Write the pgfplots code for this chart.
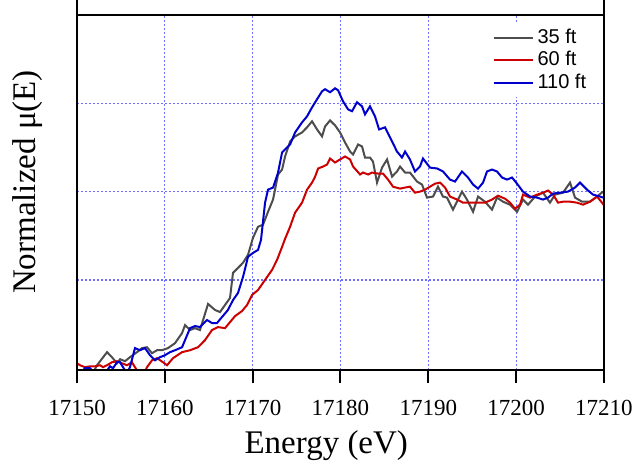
\documentclass[border=0pt]{standalone}
\usepackage{fontspec}
\setmainfont{Liberation Serif}
\newfontfamily\arial{Liberation Sans}
\usepackage{pgfplots}
\pgfplotsset{compat=1.18}
\definecolor{cgray}{HTML}{4D4D4D}
\definecolor{cred}{HTML}{CC0000}
\definecolor{cblue}{HTML}{0000CC}
\definecolor{cgrid}{HTML}{6F6FFF}
\begin{document}
\begin{tikzpicture}
\begin{axis}[
  at={(0,0)}, anchor=south west,
  scale only axis, width=263.5pt, height=177.5pt,
  xmin=17150, xmax=17210, ymin=-0.01, ymax=2.0,
  xtick={17160,17170,...,17200},
  ytick={0.5,1.0,1.5},
  xticklabels={}, yticklabels={},
  scaled ticks=false,
  major tick length=0pt,
  axis line style={line width=1pt},
  grid=major,
  major grid style={color=cgrid, line width=0.6pt, dash pattern=on 1pt off 1pt},
  clip=true,
  legend style={at={(axis description cs:0.784,0.979)}, anchor=north west,
    draw=none, fill=white, font=\arial\fontsize{10}{12}\selectfont,
    row sep=-1.5pt, inner sep=1pt},
  legend cell align=left,
  legend image code/.code={\draw[#1] (0pt,0pt) -- (19.5pt,0pt);},
  every axis plot/.append style={line width=1pt},
]
\addplot[cgray] table {
17151.8 -0.03
17152.28 0.017
17153.42 0.091
17153.98 0.0625
17154.55 0.028
17154.90 0.051
17155.47 0.040
17156.03 0.0625
17156.83 0.091
17157.40 0.114
17157.97 0.119
17158.54 0.085
17159.11 0.102
17159.68 0.102
17160.36 0.114
17161.16 0.142
17161.96 0.199
17162.30 0.244
17162.87 0.216
17163.44 0.227
17164.00 0.216
17164.92 0.364
17165.71 0.330
17166.28 0.318
17166.85 0.358
17167.42 0.398
17167.76 0.540
17168.33 0.568
17168.90 0.597
17169.47 0.642
17170.04 0.739
17170.61 0.801
17171.18 0.8125
17171.75 0.886
17172.32 0.955
17172.89 1.097
17173.35 1.125
17173.69 1.199
17174.26 1.284
17174.83 1.3125
17175.62 1.335
17176.19 1.364
17176.76 1.398
17177.33 1.352
17177.90 1.3125
17178.24 1.369
17178.81 1.403
17179.38 1.375
17179.95 1.335
17180.52 1.278
17181.09 1.227
17181.43 1.210
17182.00 1.267
17182.45 1.256
17182.79 1.193
17183.36 1.193
17183.70 1.170
17184.16 1.051
17184.73 1.136
17185.30 1.182
17185.87 1.085
17186.43 1.114
17186.78 1.142
17187.35 1.108
17187.91 1.108
17188.71 1.057
17189.28 1.040
17189.85 0.966
17190.53 0.972
17191.10 1.028
17191.67 0.972
17192.13 0.966
17192.81 0.898
17193.83 1.000
17194.40 0.955
17195.09 0.886
17195.66 0.972
17196.45 0.943
17197.25 0.898
17197.82 0.966
17198.50 0.943
17199.30 0.926
17200.10 0.886
17200.78 0.955
17201.35 0.926
17202.15 0.972
17203.06 0.994
17203.85 0.9375
17204.42 0.983
17205.33 0.994
17206.13 1.051
17206.70 0.966
17207.50 0.943
17208.41 0.943
17209.21 0.972
17209.89 1.000
};
\addlegendentry{35 ft}
\addplot[cred] table {
17150.00 0.028
17150.34 0.017
17150.91 0.006
17151.48 0.011
17152.05 0.011
17152.62 0.017
17152.96 0.006
17153.42 0.017
17153.98 0.034
17154.55 0.040
17155.12 0.028
17155.69 0.017
17156.26 0.034
17156.60 0.006
17157.06 -0.03
17157.63 -0.03
17157.97 0.006
17158.54 0.045
17159.11 0.057
17159.79 0.034
17160.25 0.017
17160.93 0.057
17161.96 0.091
17162.87 0.102
17163.78 0.119
17164.57 0.159
17165.37 0.216
17166.05 0.233
17166.85 0.227
17167.42 0.261
17167.99 0.295
17168.79 0.324
17169.36 0.358
17169.93 0.415
17170.61 0.443
17171.41 0.500
17172.21 0.557
17172.78 0.614
17173.35 0.6875
17173.69 0.733
17174.26 0.801
17174.83 0.881
17175.62 0.9375
17176.19 1.011
17176.76 1.051
17177.11 1.085
17177.45 1.131
17178.02 1.142
17178.47 1.153
17178.81 1.1875
17179.38 1.165
17179.95 1.182
17180.52 1.199
17181.09 1.182
17181.43 1.142
17182.23 1.097
17182.57 1.108
17183.14 1.097
17183.59 1.108
17184.27 1.102
17184.84 1.102
17185.41 1.068
17185.98 1.028
17186.78 1.017
17187.35 1.023
17187.91 1.028
17188.48 0.994
17189.05 1.000
17189.62 1.011
17190.19 1.028
17190.76 1.045
17191.33 1.051
17191.90 1.023
17192.47 0.972
17193.27 0.955
17193.95 0.9375
17194.76 0.9375
17195.55 0.9375
17196.45 0.9375
17197.25 0.955
17197.93 0.977
17198.73 0.960
17199.30 0.9375
17199.87 0.903
17200.44 0.926
17200.78 0.983
17201.58 0.966
17202.38 0.983
17203.06 0.994
17203.63 1.006
17204.20 0.983
17204.77 0.9375
17205.33 0.943
17206.13 0.943
17206.93 0.9375
17207.61 0.926
17208.41 0.943
17209.21 0.972
17209.77 0.9375
17210.11 0.915
};
\addlegendentry{60 ft}
\addplot[cblue] table {
17150.50 -0.02
17150.91 0.000
17151.48 0.000
17152.05 -0.03
17153.19 -0.03
17153.76 0.011
17154.10 0.000
17154.55 0.034
17154.90 0.034
17155.24 0.006
17155.69 -0.03
17156.03 0.006
17156.60 0.114
17157.17 0.102
17157.74 0.114
17158.31 0.074
17158.88 0.045
17159.45 0.0625
17160.02 0.074
17160.59 0.091
17161.16 0.102
17161.96 0.119
17162.30 0.159
17162.87 0.227
17163.44 0.239
17164.00 0.233
17164.80 0.273
17165.37 0.256
17165.94 0.256
17166.51 0.290
17167.19 0.330
17167.76 0.386
17168.33 0.426
17168.90 0.517
17169.47 0.631
17170.04 0.653
17170.61 0.670
17170.95 0.727
17171.41 0.9375
17171.75 1.011
17172.32 1.023
17172.89 1.108
17173.35 1.222
17173.92 1.250
17174.26 1.267
17174.83 1.335
17175.62 1.392
17176.19 1.426
17176.76 1.477
17177.33 1.523
17177.90 1.568
17178.24 1.580
17178.81 1.5625
17179.38 1.585
17179.72 1.574
17180.29 1.511
17180.86 1.466
17181.31 1.455
17181.88 1.506
17182.45 1.483
17182.79 1.4375
17183.36 1.483
17183.93 1.426
17184.39 1.352
17185.07 1.364
17185.64 1.307
17186.43 1.227
17187.00 1.193
17187.35 1.227
17187.91 1.182
17188.48 1.114
17189.05 1.142
17189.39 1.1875
17190.19 1.136
17191.00 1.131
17191.67 1.114
17192.47 1.068
17193.04 1.057
17193.83 1.114
17194.51 1.080
17195.09 1.040
17195.66 1.017
17196.23 1.051
17196.68 1.114
17197.25 1.125
17197.82 1.114
17198.39 1.080
17198.96 1.068
17199.53 1.080
17200.10 1.045
17200.78 1.000
17201.58 0.972
17202.38 0.966
17203.06 0.955
17203.63 0.966
17204.20 0.989
17205.00 0.994
17205.90 1.000
17206.70 1.023
17207.27 1.051
17208.07 1.011
17208.75 0.983
17209.55 0.972
17209.89 0.966
};
\addlegendentry{110 ft}
\end{axis}
\begin{axis}[
  at={(0,0)}, anchor=south west,
  scale only axis, width=263.5pt, height=207.5pt,
  xmin=17150, xmax=17210, ymin=0, ymax=1,
  xtick={17150,17160,...,17210},
  ytick=\empty,
  scaled x ticks=false,
  tick align=outside,
  major tick length=6.5pt,
  xtick style={line width=1pt, black},
  axis line style={line width=1pt},
  /pgf/number format/assume math mode=true,
  /pgf/number format/1000 sep={},
  xticklabel style={font=\fontsize{11.5}{13}\selectfont},
  xticklabel shift=5pt,
  xlabel={Energy (eV)},
  ylabel={Normalized μ(E)},
  label style={font=\fontsize{16.5}{19}\selectfont},
  xlabel style={at={(axis description cs:0.473,-0.181)}, anchor=center},
  ylabel style={at={(axis description cs:-0.093,0.453)}, anchor=center},
]
\end{axis}
\pgfresetboundingbox
\path[use as bounding box] (-38.5pt,-45.5pt) rectangle (279pt,185pt);
\end{tikzpicture}
\end{document}
